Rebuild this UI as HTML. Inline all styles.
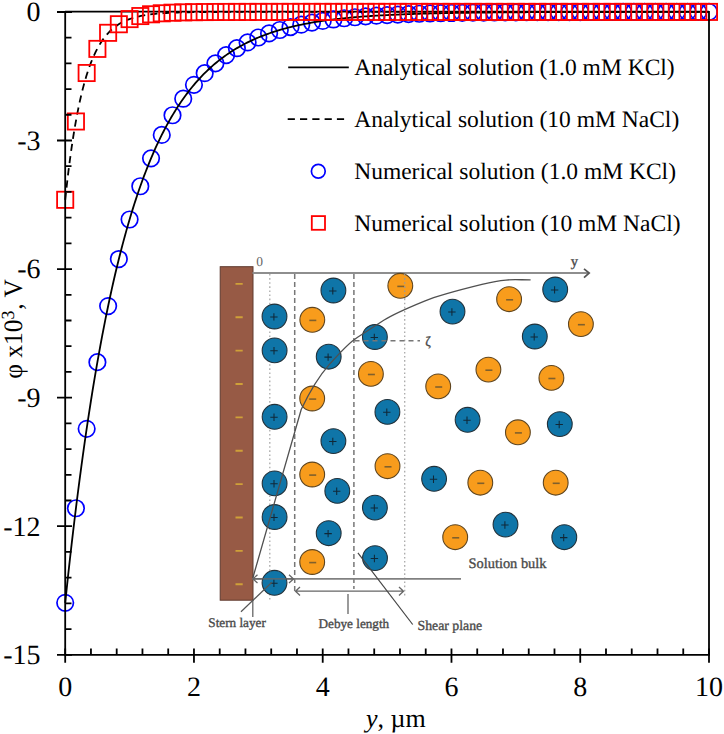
<!DOCTYPE html><html><head><meta charset="utf-8"><style>html,body{margin:0;padding:0;background:#fff;}svg{display:block;}text{font-family:"Liberation Serif",serif;text-rendering:geometricPrecision;}</style></head><body>
<svg width="724" height="734" viewBox="0 0 724 734">
<rect width="724" height="734" fill="#fff"/>
<g id="inset">
<rect x="220.2" y="266.7" width="32.8" height="333.5" fill="#975a45" stroke="#5e3a2e" stroke-width="1"/>
<path d="M235.5,283.9h7.2M235.5,317.3h7.2M235.5,350.6h7.2M235.5,384.0h7.2M235.5,417.4h7.2M235.5,450.8h7.2M235.5,484.1h7.2M235.5,517.5h7.2M235.5,550.9h7.2M235.5,584.2h7.2" stroke="#cfa038" stroke-width="1.9"/>
<path d="M252.5,273 H589" stroke="#8e8e8e" stroke-width="2" fill="none"/>
<path d="M584,268.8 L589.2,273 L584,277.6" stroke="#555" stroke-width="1.7" fill="none"/>
<path d="M269.8,274 V600 M404.7,274 V598" stroke="#aaa" stroke-width="1.3" stroke-dasharray="1.6 2.5" fill="none"/>
<path d="M294.7,274 V592 M353.9,274 V589" stroke="#777" stroke-width="1.5" stroke-dasharray="5 3" fill="none"/>
<path d="M252.5,578.9 H461" stroke="#808080" stroke-width="1.6" fill="none"/>
<circle cx="333.4" cy="290.5" r="12.4" fill="#0f75a8" stroke="#22313a" stroke-width="1.1"/>
<path d="M329.1,290.9h7.4M332.8,287.2v7.4" stroke="#102838" stroke-width="1.05"/>
<circle cx="274.5" cy="316.5" r="12.4" fill="#0f75a8" stroke="#22313a" stroke-width="1.1"/>
<path d="M270.2,316.9h7.4M273.9,313.2v7.4" stroke="#102838" stroke-width="1.05"/>
<circle cx="274.6" cy="350.4" r="12.4" fill="#0f75a8" stroke="#22313a" stroke-width="1.1"/>
<path d="M270.3,350.8h7.4M274.0,347.1v7.4" stroke="#102838" stroke-width="1.05"/>
<circle cx="328.7" cy="356.7" r="12.4" fill="#0f75a8" stroke="#22313a" stroke-width="1.1"/>
<path d="M324.4,357.1h7.4M328.1,353.4v7.4" stroke="#102838" stroke-width="1.05"/>
<circle cx="374.9" cy="337.0" r="12.4" fill="#0f75a8" stroke="#22313a" stroke-width="1.1"/>
<path d="M370.6,337.4h7.4M374.3,333.7v7.4" stroke="#102838" stroke-width="1.05"/>
<circle cx="452.5" cy="311.6" r="12.4" fill="#0f75a8" stroke="#22313a" stroke-width="1.1"/>
<path d="M448.2,312.0h7.4M451.9,308.3v7.4" stroke="#102838" stroke-width="1.05"/>
<circle cx="555.2" cy="289.5" r="12.4" fill="#0f75a8" stroke="#22313a" stroke-width="1.1"/>
<path d="M550.9,289.9h7.4M554.6,286.2v7.4" stroke="#102838" stroke-width="1.05"/>
<circle cx="534.8" cy="336.5" r="12.4" fill="#0f75a8" stroke="#22313a" stroke-width="1.1"/>
<path d="M530.5,336.9h7.4M534.2,333.2v7.4" stroke="#102838" stroke-width="1.05"/>
<circle cx="274.6" cy="416.8" r="12.4" fill="#0f75a8" stroke="#22313a" stroke-width="1.1"/>
<path d="M270.3,417.2h7.4M274.0,413.5v7.4" stroke="#102838" stroke-width="1.05"/>
<circle cx="333.4" cy="441.1" r="12.4" fill="#0f75a8" stroke="#22313a" stroke-width="1.1"/>
<path d="M329.1,441.5h7.4M332.8,437.8v7.4" stroke="#102838" stroke-width="1.05"/>
<circle cx="387.4" cy="411.9" r="12.4" fill="#0f75a8" stroke="#22313a" stroke-width="1.1"/>
<path d="M383.1,412.3h7.4M386.8,408.6v7.4" stroke="#102838" stroke-width="1.05"/>
<circle cx="467.6" cy="419.8" r="12.4" fill="#0f75a8" stroke="#22313a" stroke-width="1.1"/>
<path d="M463.3,420.2h7.4M467.0,416.5v7.4" stroke="#102838" stroke-width="1.05"/>
<circle cx="559.8" cy="424.1" r="12.4" fill="#0f75a8" stroke="#22313a" stroke-width="1.1"/>
<path d="M555.5,424.5h7.4M559.2,420.8v7.4" stroke="#102838" stroke-width="1.05"/>
<circle cx="274.6" cy="483.4" r="12.4" fill="#0f75a8" stroke="#22313a" stroke-width="1.1"/>
<path d="M270.3,483.8h7.4M274.0,480.1v7.4" stroke="#102838" stroke-width="1.05"/>
<circle cx="337.3" cy="490.9" r="12.4" fill="#0f75a8" stroke="#22313a" stroke-width="1.1"/>
<path d="M333.0,491.3h7.4M336.7,487.6v7.4" stroke="#102838" stroke-width="1.05"/>
<circle cx="274.6" cy="517.0" r="12.4" fill="#0f75a8" stroke="#22313a" stroke-width="1.1"/>
<path d="M270.3,517.4h7.4M274.0,513.7v7.4" stroke="#102838" stroke-width="1.05"/>
<circle cx="328.7" cy="533.2" r="12.4" fill="#0f75a8" stroke="#22313a" stroke-width="1.1"/>
<path d="M324.4,533.6h7.4M328.1,529.9v7.4" stroke="#102838" stroke-width="1.05"/>
<circle cx="374.9" cy="507.6" r="12.4" fill="#0f75a8" stroke="#22313a" stroke-width="1.1"/>
<path d="M370.6,508.0h7.4M374.3,504.3v7.4" stroke="#102838" stroke-width="1.05"/>
<circle cx="434.1" cy="478.8" r="12.4" fill="#0f75a8" stroke="#22313a" stroke-width="1.1"/>
<path d="M429.8,479.2h7.4M433.5,475.5v7.4" stroke="#102838" stroke-width="1.05"/>
<circle cx="505.5" cy="524.6" r="12.4" fill="#0f75a8" stroke="#22313a" stroke-width="1.1"/>
<path d="M501.2,525.0h7.4M504.9,521.3v7.4" stroke="#102838" stroke-width="1.05"/>
<circle cx="564.3" cy="537.2" r="12.4" fill="#0f75a8" stroke="#22313a" stroke-width="1.1"/>
<path d="M560.0,537.6h7.4M563.7,533.9v7.4" stroke="#102838" stroke-width="1.05"/>
<circle cx="375.0" cy="558.1" r="12.4" fill="#0f75a8" stroke="#22313a" stroke-width="1.1"/>
<path d="M370.7,558.5h7.4M374.4,554.8v7.4" stroke="#102838" stroke-width="1.05"/>
<circle cx="274.5" cy="582.8" r="12.4" fill="#0f75a8" stroke="#22313a" stroke-width="1.1"/>
<path d="M270.2,583.2h7.4M273.9,579.5v7.4" stroke="#102838" stroke-width="1.05"/>
<circle cx="400.3" cy="285.8" r="12.4" fill="#f89c1c" stroke="#5e4520" stroke-width="1.1"/>
<path d="M397.3,286.4h7" stroke="#80602c" stroke-width="1.6"/>
<circle cx="509.1" cy="299.2" r="12.4" fill="#f89c1c" stroke="#5e4520" stroke-width="1.1"/>
<path d="M506.1,299.8h7" stroke="#80602c" stroke-width="1.6"/>
<circle cx="580.9" cy="324.1" r="12.4" fill="#f89c1c" stroke="#5e4520" stroke-width="1.1"/>
<path d="M577.9,324.7h7" stroke="#80602c" stroke-width="1.6"/>
<circle cx="312.3" cy="319.8" r="12.4" fill="#f89c1c" stroke="#5e4520" stroke-width="1.1"/>
<path d="M309.3,320.4h7" stroke="#80602c" stroke-width="1.6"/>
<circle cx="370.9" cy="373.9" r="12.4" fill="#f89c1c" stroke="#5e4520" stroke-width="1.1"/>
<path d="M367.9,374.5h7" stroke="#80602c" stroke-width="1.6"/>
<circle cx="438.2" cy="386.4" r="12.4" fill="#f89c1c" stroke="#5e4520" stroke-width="1.1"/>
<path d="M435.2,387.0h7" stroke="#80602c" stroke-width="1.6"/>
<circle cx="488.4" cy="369.6" r="12.4" fill="#f89c1c" stroke="#5e4520" stroke-width="1.1"/>
<path d="M485.4,370.2h7" stroke="#80602c" stroke-width="1.6"/>
<circle cx="551.4" cy="377.9" r="12.4" fill="#f89c1c" stroke="#5e4520" stroke-width="1.1"/>
<path d="M548.4,378.5h7" stroke="#80602c" stroke-width="1.6"/>
<circle cx="312.2" cy="398.5" r="12.4" fill="#f89c1c" stroke="#5e4520" stroke-width="1.1"/>
<path d="M309.2,399.1h7" stroke="#80602c" stroke-width="1.6"/>
<circle cx="517.9" cy="432.3" r="12.4" fill="#f89c1c" stroke="#5e4520" stroke-width="1.1"/>
<path d="M514.9,432.9h7" stroke="#80602c" stroke-width="1.6"/>
<circle cx="387.5" cy="466.2" r="12.4" fill="#f89c1c" stroke="#5e4520" stroke-width="1.1"/>
<path d="M384.5,466.8h7" stroke="#80602c" stroke-width="1.6"/>
<circle cx="312.2" cy="474.5" r="12.4" fill="#f89c1c" stroke="#5e4520" stroke-width="1.1"/>
<path d="M309.2,475.1h7" stroke="#80602c" stroke-width="1.6"/>
<circle cx="480.3" cy="482.7" r="12.4" fill="#f89c1c" stroke="#5e4520" stroke-width="1.1"/>
<path d="M477.3,483.3h7" stroke="#80602c" stroke-width="1.6"/>
<circle cx="555.7" cy="482.7" r="12.4" fill="#f89c1c" stroke="#5e4520" stroke-width="1.1"/>
<path d="M552.7,483.3h7" stroke="#80602c" stroke-width="1.6"/>
<circle cx="455.2" cy="537.2" r="12.4" fill="#f89c1c" stroke="#5e4520" stroke-width="1.1"/>
<path d="M452.2,537.8h7" stroke="#80602c" stroke-width="1.6"/>
<circle cx="312.2" cy="562.0" r="12.4" fill="#f89c1c" stroke="#5e4520" stroke-width="1.1"/>
<path d="M309.2,562.6h7" stroke="#80602c" stroke-width="1.6"/>
<path d="M404.7,274 V299" stroke="#999" stroke-width="1.3" stroke-dasharray="1.6 2.5" fill="none"/>
<path d="M354.5,340.8 H420" stroke="#777" stroke-width="1.5" stroke-dasharray="5 4" fill="none"/>
<path d="M252.8,578 L301.2,409.5 C310,391 320,375 329,364.9 S348,344 354.5,339.5 S375,326 384.6,319.8 S410,307 423.9,301.3 S455,291 482,284.4 S515,280 530.6,279.9" stroke="#505050" stroke-width="1.3" fill="none"/>
<path d="M253,578.9 H293.5 M257.5,574.7 L253,578.9 L257.5,583.1 M289,574.7 L293.5,578.9 L289,583.1" stroke="#666" stroke-width="1.3" fill="none"/>
<path d="M295.5,591.2 H403.5 M300,587 L295.5,591.2 L300,595.4 M399,587 L403.5,591.2 L399,595.4" stroke="#666" stroke-width="1.3" fill="none"/>
<path d="M348,594 V614 M252.8,600 V617" stroke="#666" stroke-width="1.3" fill="none"/>
<path d="M241,611.8 L271.9,582.2" stroke="#555" stroke-width="1.2" fill="none"/>
<path d="M357.9,552.9 L412.7,624.5" stroke="#444" stroke-width="1.2" fill="none"/>
<g fill="#4a4a4a" stroke="#4a4a4a" stroke-width="0.35" font-family="Liberation Serif">
<text x="256.2" y="266.2" font-size="13.5" stroke="none" fill="#666">0</text>
<text x="570.8" y="265.6" font-size="14.5">y</text>
<text x="425.2" y="346.2" font-size="13.5">ζ</text>
<text x="208.3" y="626.5" font-size="13.2">Stern layer</text>
<text x="318.5" y="627.8" font-size="13.2">Debye length</text>
<text x="417.5" y="629.8" font-size="13.8">Shear plane</text>
<text x="468.5" y="567.7" font-size="14.4">Solution bulk</text>
</g>
</g>
<path d="M65,11.6 H709.00" stroke="#000" stroke-width="1.6"/>
<g fill="none" stroke="#0000ff" stroke-width="1.7"><circle cx="65.20" cy="602.81" r="8.25"/><circle cx="75.93" cy="508.27" r="8.25"/><circle cx="86.66" cy="428.85" r="8.25"/><circle cx="97.39" cy="362.14" r="8.25"/><circle cx="108.12" cy="306.10" r="8.25"/><circle cx="118.85" cy="259.03" r="8.25"/><circle cx="129.58" cy="219.49" r="8.25"/><circle cx="140.31" cy="186.27" r="8.25"/><circle cx="151.04" cy="158.37" r="8.25"/><circle cx="161.77" cy="134.94" r="8.25"/><circle cx="172.50" cy="115.25" r="8.25"/><circle cx="183.23" cy="98.71" r="8.25"/><circle cx="193.96" cy="84.82" r="8.25"/><circle cx="204.69" cy="73.16" r="8.25"/><circle cx="215.42" cy="63.36" r="8.25"/><circle cx="226.15" cy="55.12" r="8.25"/><circle cx="236.88" cy="48.21" r="8.25"/><circle cx="247.61" cy="42.40" r="8.25"/><circle cx="258.34" cy="37.52" r="8.25"/><circle cx="269.07" cy="33.42" r="8.25"/><circle cx="279.80" cy="29.98" r="8.25"/><circle cx="290.53" cy="27.08" r="8.25"/><circle cx="301.26" cy="24.65" r="8.25"/><circle cx="311.99" cy="22.61" r="8.25"/><circle cx="322.72" cy="20.90" r="8.25"/><circle cx="333.45" cy="19.46" r="8.25"/><circle cx="344.18" cy="18.25" r="8.25"/><circle cx="354.91" cy="17.23" r="8.25"/><circle cx="365.64" cy="16.38" r="8.25"/><circle cx="376.37" cy="15.66" r="8.25"/><circle cx="387.10" cy="15.06" r="8.25"/><circle cx="397.83" cy="14.56" r="8.25"/><circle cx="408.56" cy="14.13" r="8.25"/><circle cx="419.29" cy="13.77" r="8.25"/><circle cx="430.02" cy="13.47" r="8.25"/><circle cx="440.75" cy="13.22" r="8.25"/><circle cx="451.48" cy="13.01" r="8.25"/><circle cx="462.21" cy="12.83" r="8.25"/><circle cx="472.94" cy="12.68" r="8.25"/><circle cx="483.67" cy="12.56" r="8.25"/><circle cx="494.40" cy="12.45" r="8.25"/><circle cx="505.13" cy="12.36" r="8.25"/><circle cx="515.86" cy="12.29" r="8.25"/><circle cx="526.59" cy="12.23" r="8.25"/><circle cx="537.32" cy="12.18" r="8.25"/><circle cx="548.05" cy="12.13" r="8.25"/><circle cx="558.78" cy="12.09" r="8.25"/><circle cx="569.51" cy="12.06" r="8.25"/><circle cx="580.24" cy="12.04" r="8.25"/><circle cx="590.97" cy="12.02" r="8.25"/><circle cx="601.70" cy="12.00" r="8.25"/><circle cx="612.43" cy="11.98" r="8.25"/><circle cx="623.16" cy="11.97" r="8.25"/><circle cx="633.89" cy="11.96" r="8.25"/><circle cx="644.62" cy="11.95" r="8.25"/><circle cx="655.35" cy="11.94" r="8.25"/><circle cx="666.08" cy="11.93" r="8.25"/><circle cx="676.81" cy="11.93" r="8.25"/><circle cx="687.54" cy="11.92" r="8.25"/><circle cx="698.27" cy="11.92" r="8.25"/><circle cx="709.00" cy="11.92" r="8.25"/></g>
<path d="M65.20,602.81 L66.81,587.56 L68.42,572.69 L70.03,558.22 L71.64,544.11 L73.25,530.37 L74.86,516.99 L76.47,503.95 L78.08,491.25 L79.69,478.87 L81.30,466.82 L82.90,455.07 L84.51,443.63 L86.12,432.49 L87.73,421.63 L89.34,411.05 L90.95,400.75 L92.56,390.71 L94.17,380.93 L95.78,371.40 L97.39,362.12 L99.00,353.08 L100.61,344.27 L102.22,335.69 L103.83,327.33 L105.44,319.19 L107.05,311.26 L108.66,303.53 L110.27,296.00 L111.88,288.67 L113.48,281.52 L115.09,274.56 L116.70,267.78 L118.31,261.17 L119.92,254.74 L121.53,248.47 L123.14,242.36 L124.75,236.41 L126.36,230.62 L127.97,224.97 L129.58,219.47 L131.19,214.11 L132.80,208.89 L134.41,203.80 L136.02,198.85 L137.63,194.02 L139.24,189.32 L140.85,184.74 L142.46,180.28 L144.07,175.93 L145.68,171.70 L147.28,167.57 L148.89,163.55 L150.50,159.64 L152.11,155.83 L153.72,152.11 L155.33,148.49 L156.94,144.96 L158.55,141.53 L160.16,138.18 L161.77,134.92 L163.38,131.75 L164.99,128.65 L166.60,125.64 L168.21,122.70 L169.82,119.84 L171.43,117.05 L173.04,114.34 L174.65,111.70 L176.26,109.12 L177.87,106.61 L179.47,104.16 L181.08,101.78 L182.69,99.46 L184.30,97.20 L185.91,95.00 L187.52,92.85 L189.13,90.76 L190.74,88.73 L192.35,86.75 L193.96,84.81 L195.57,82.93 L197.18,81.10 L198.79,79.31 L200.40,77.57 L202.01,75.87 L203.62,74.22 L205.23,72.61 L206.84,71.05 L208.45,69.52 L210.06,68.03 L211.66,66.58 L213.27,65.17 L214.88,63.80 L216.49,62.46 L218.10,61.15 L219.71,59.88 L221.32,58.64 L222.93,57.43 L224.54,56.26 L226.15,55.11 L227.76,54.00 L229.37,52.91 L230.98,51.85 L232.59,50.82 L234.20,49.82 L235.81,48.84 L237.42,47.88 L239.03,46.96 L240.64,46.05 L242.25,45.17 L243.85,44.31 L245.46,43.47 L247.07,42.66 L248.68,41.86 L250.29,41.09 L251.90,40.34 L253.51,39.60 L255.12,38.89 L256.73,38.19 L258.34,37.51 L259.95,36.85 L261.56,36.21 L263.17,35.58 L264.78,34.97 L266.39,34.37 L268.00,33.79 L269.61,33.23 L271.22,32.68 L272.83,32.14 L274.44,31.62 L276.04,31.11 L277.65,30.61 L279.26,30.13 L280.87,29.66 L282.48,29.20 L284.09,28.75 L285.70,28.32 L287.31,27.89 L288.92,27.48 L290.53,27.08 L292.14,26.69 L293.75,26.31 L295.36,25.93 L296.97,25.57 L298.58,25.22 L300.19,24.88 L301.80,24.54 L303.41,24.21 L305.02,23.90 L306.62,23.59 L308.23,23.28 L309.84,22.99 L311.45,22.70 L313.06,22.43 L314.67,22.15 L316.28,21.89 L317.89,21.63 L319.50,21.38 L321.11,21.14 L322.72,20.90 L324.33,20.66 L325.94,20.44 L327.55,20.22 L329.16,20.00 L330.77,19.79 L332.38,19.59 L333.99,19.39 L335.60,19.20 L337.21,19.01 L338.81,18.83 L340.42,18.65 L342.03,18.47 L343.64,18.30 L345.25,18.14 L346.86,17.98 L348.47,17.82 L350.08,17.67 L351.69,17.52 L353.30,17.37 L354.91,17.23 L356.52,17.09 L358.13,16.96 L359.74,16.83 L361.35,16.70 L362.96,16.58 L364.57,16.46 L366.18,16.34 L367.79,16.23 L369.40,16.11 L371.00,16.01 L372.61,15.90 L374.22,15.80 L375.83,15.70 L377.44,15.60 L379.05,15.50 L380.66,15.41 L382.27,15.32 L383.88,15.23 L385.49,15.14 L387.10,15.06 L388.71,14.98 L390.32,14.90 L391.93,14.82 L393.54,14.75 L395.15,14.67 L396.76,14.60 L398.37,14.53 L399.98,14.46 L401.59,14.40 L403.19,14.33 L404.80,14.27 L406.41,14.21 L408.02,14.15 L409.63,14.09 L411.24,14.03 L412.85,13.98 L414.46,13.93 L416.07,13.87 L417.68,13.82 L419.29,13.77 L420.90,13.72 L422.51,13.68 L424.12,13.63 L425.73,13.59 L427.34,13.54 L428.95,13.50 L430.56,13.46 L432.17,13.42 L433.78,13.38 L435.38,13.34 L436.99,13.30 L438.60,13.27 L440.21,13.23 L441.82,13.20 L443.43,13.17 L445.04,13.13 L446.65,13.10 L448.26,13.07 L449.87,13.04 L451.48,13.01 L453.09,12.98 L454.70,12.95 L456.31,12.93 L457.92,12.90 L459.53,12.87 L461.14,12.85 L462.75,12.82 L464.36,12.80 L465.97,12.78 L467.57,12.75 L469.18,12.73 L470.79,12.71 L472.40,12.69 L474.01,12.67 L475.62,12.65 L477.23,12.63 L478.84,12.61 L480.45,12.59 L482.06,12.58 L483.67,12.56 L485.28,12.54 L486.89,12.52 L488.50,12.51 L490.11,12.49 L491.72,12.48 L493.33,12.46 L494.94,12.45 L496.55,12.43 L498.16,12.42 L499.76,12.41 L501.37,12.39 L502.98,12.38 L504.59,12.37 L506.20,12.36 L507.81,12.34 L509.42,12.33 L511.03,12.32 L512.64,12.31 L514.25,12.30 L515.86,12.29 L517.47,12.28 L519.08,12.27 L520.69,12.26 L522.30,12.25 L523.91,12.24 L525.52,12.23 L527.13,12.22 L528.74,12.22 L530.35,12.21 L531.96,12.20 L533.56,12.19 L535.17,12.18 L536.78,12.18 L538.39,12.17 L540.00,12.16 L541.61,12.16 L543.22,12.15 L544.83,12.14 L546.44,12.14 L548.05,12.13 L549.66,12.13 L551.27,12.12 L552.88,12.11 L554.49,12.11 L556.10,12.10 L557.71,12.10 L559.32,12.09 L560.93,12.09 L562.54,12.08 L564.14,12.08 L565.75,12.07 L567.36,12.07 L568.97,12.06 L570.58,12.06 L572.19,12.06 L573.80,12.05 L575.41,12.05 L577.02,12.04 L578.63,12.04 L580.24,12.04 L581.85,12.03 L583.46,12.03 L585.07,12.03 L586.68,12.02 L588.29,12.02 L589.90,12.02 L591.51,12.01 L593.12,12.01 L594.73,12.01 L596.34,12.01 L597.94,12.00 L599.55,12.00 L601.16,12.00 L602.77,11.99 L604.38,11.99 L605.99,11.99 L607.60,11.99 L609.21,11.99 L610.82,11.98 L612.43,11.98 L614.04,11.98 L615.65,11.98 L617.26,11.98 L618.87,11.97 L620.48,11.97 L622.09,11.97 L623.70,11.97 L625.31,11.97 L626.92,11.96 L628.52,11.96 L630.13,11.96 L631.74,11.96 L633.35,11.96 L634.96,11.96 L636.57,11.95 L638.18,11.95 L639.79,11.95 L641.40,11.95 L643.01,11.95 L644.62,11.95 L646.23,11.95 L647.84,11.95 L649.45,11.94 L651.06,11.94 L652.67,11.94 L654.28,11.94 L655.89,11.94 L657.50,11.94 L659.11,11.94 L660.72,11.94 L662.32,11.94 L663.93,11.94 L665.54,11.93 L667.15,11.93 L668.76,11.93 L670.37,11.93 L671.98,11.93 L673.59,11.93 L675.20,11.93 L676.81,11.93 L678.42,11.93 L680.03,11.93 L681.64,11.93 L683.25,11.93 L684.86,11.93 L686.47,11.92 L688.08,11.92 L689.69,11.92 L691.30,11.92 L692.90,11.92 L694.51,11.92 L696.12,11.92 L697.73,11.92 L699.34,11.92 L700.95,11.92 L702.56,11.92 L704.17,11.92 L705.78,11.92 L707.39,11.92 L709.00,11.92" fill="none" stroke="#000" stroke-width="1.8"/>
<path d="M65.20,199.80 L66.81,185.05 L68.42,171.46 L70.03,158.93 L71.64,147.39 L73.25,136.75 L74.86,126.95 L76.47,117.92 L78.08,109.60 L79.69,101.93 L81.30,94.86 L82.90,88.35 L84.51,82.35 L86.12,76.82 L87.73,71.72 L89.34,67.03 L90.95,62.70 L92.56,58.71 L94.17,55.04 L95.78,51.65 L97.39,48.53 L99.00,45.66 L100.61,43.01 L102.22,40.56 L103.83,38.31 L105.44,36.24 L107.05,34.33 L108.66,32.57 L110.27,30.95 L111.88,29.45 L113.48,28.07 L115.09,26.80 L116.70,25.63 L118.31,24.56 L119.92,23.56 L121.53,22.65 L123.14,21.80 L124.75,21.03 L126.36,20.31 L127.97,19.65 L129.58,19.04 L131.19,18.48 L132.80,17.96 L134.41,17.49 L136.02,17.05 L137.63,16.65 L139.24,16.27 L140.85,15.93 L142.46,15.61 L144.07,15.32 L145.68,15.05 L147.28,14.81 L148.89,14.58 L150.50,14.37 L152.11,14.17 L153.72,14.00 L155.33,13.83 L156.94,13.68 L158.55,13.54 L160.16,13.41 L161.77,13.29 L163.38,13.18 L164.99,13.08 L166.60,12.99 L168.21,12.90 L169.82,12.83 L171.43,12.75 L173.04,12.69 L174.65,12.62 L176.26,12.57 L177.87,12.51 L179.47,12.47 L181.08,12.42 L182.69,12.38 L184.30,12.34 L185.91,12.31 L187.52,12.28 L189.13,12.25 L190.74,12.22 L192.35,12.19 L193.96,12.17 L195.57,12.15 L197.18,12.13 L198.79,12.11 L200.40,12.10 L202.01,12.08 L203.62,12.07 L205.23,12.05 L206.84,12.04 L208.45,12.03 L210.06,12.02 L211.66,12.01 L213.27,12.00 L214.88,11.99 L216.49,11.99 L218.10,11.98 L219.71,11.97 L221.32,11.97 L222.93,11.96 L224.54,11.96 L226.15,11.95 L227.76,11.95 L229.37,11.94 L230.98,11.94 L232.59,11.94 L234.20,11.94 L235.81,11.93 L237.42,11.93 L239.03,11.93 L240.64,11.93 L242.25,11.92 L243.85,11.92 L245.46,11.92 L247.07,11.92 L248.68,11.92 L250.29,11.92 L251.90,11.91 L253.51,11.91 L255.12,11.91 L256.73,11.91 L258.34,11.91 L259.95,11.91 L261.56,11.91 L263.17,11.91 L264.78,11.91 L266.39,11.91 L268.00,11.91 L269.61,11.91 L271.22,11.91 L272.83,11.90 L274.44,11.90 L276.04,11.90 L277.65,11.90 L279.26,11.90 L280.87,11.90 L282.48,11.90 L284.09,11.90 L285.70,11.90 L287.31,11.90 L288.92,11.90 L290.53,11.90 L292.14,11.90 L293.75,11.90 L295.36,11.90 L296.97,11.90 L298.58,11.90 L300.19,11.90 L301.80,11.90 L303.41,11.90 L305.02,11.90 L306.62,11.90 L308.23,11.90 L309.84,11.90 L311.45,11.90 L313.06,11.90 L314.67,11.90 L316.28,11.90 L317.89,11.90 L319.50,11.90 L321.11,11.90 L322.72,11.90 L324.33,11.90 L325.94,11.90 L327.55,11.90 L329.16,11.90 L330.77,11.90 L332.38,11.90 L333.99,11.90 L335.60,11.90 L337.21,11.90 L338.81,11.90 L340.42,11.90 L342.03,11.90 L343.64,11.90 L345.25,11.90 L346.86,11.90 L348.47,11.90 L350.08,11.90 L351.69,11.90 L353.30,11.90 L354.91,11.90 L356.52,11.90 L358.13,11.90 L359.74,11.90 L361.35,11.90 L362.96,11.90 L364.57,11.90 L366.18,11.90 L367.79,11.90 L369.40,11.90 L371.00,11.90 L372.61,11.90 L374.22,11.90 L375.83,11.90 L377.44,11.90 L379.05,11.90 L380.66,11.90 L382.27,11.90 L383.88,11.90 L385.49,11.90 L387.10,11.90 L388.71,11.90 L390.32,11.90 L391.93,11.90 L393.54,11.90 L395.15,11.90 L396.76,11.90 L398.37,11.90 L399.98,11.90 L401.59,11.90 L403.19,11.90 L404.80,11.90 L406.41,11.90 L408.02,11.90 L409.63,11.90 L411.24,11.90 L412.85,11.90 L414.46,11.90 L416.07,11.90 L417.68,11.90 L419.29,11.90 L420.90,11.90 L422.51,11.90 L424.12,11.90 L425.73,11.90 L427.34,11.90 L428.95,11.90 L430.56,11.90 L432.17,11.90 L433.78,11.90 L435.38,11.90 L436.99,11.90 L438.60,11.90 L440.21,11.90 L441.82,11.90 L443.43,11.90 L445.04,11.90 L446.65,11.90 L448.26,11.90 L449.87,11.90 L451.48,11.90 L453.09,11.90 L454.70,11.90 L456.31,11.90 L457.92,11.90 L459.53,11.90 L461.14,11.90 L462.75,11.90 L464.36,11.90 L465.97,11.90 L467.57,11.90 L469.18,11.90 L470.79,11.90 L472.40,11.90 L474.01,11.90 L475.62,11.90 L477.23,11.90 L478.84,11.90 L480.45,11.90 L482.06,11.90 L483.67,11.90 L485.28,11.90 L486.89,11.90 L488.50,11.90 L490.11,11.90 L491.72,11.90 L493.33,11.90 L494.94,11.90 L496.55,11.90 L498.16,11.90 L499.76,11.90 L501.37,11.90 L502.98,11.90 L504.59,11.90 L506.20,11.90 L507.81,11.90 L509.42,11.90 L511.03,11.90 L512.64,11.90 L514.25,11.90 L515.86,11.90 L517.47,11.90 L519.08,11.90 L520.69,11.90 L522.30,11.90 L523.91,11.90 L525.52,11.90 L527.13,11.90 L528.74,11.90 L530.35,11.90 L531.96,11.90 L533.56,11.90 L535.17,11.90 L536.78,11.90 L538.39,11.90 L540.00,11.90 L541.61,11.90 L543.22,11.90 L544.83,11.90 L546.44,11.90 L548.05,11.90 L549.66,11.90 L551.27,11.90 L552.88,11.90 L554.49,11.90 L556.10,11.90 L557.71,11.90 L559.32,11.90 L560.93,11.90 L562.54,11.90 L564.14,11.90 L565.75,11.90 L567.36,11.90 L568.97,11.90 L570.58,11.90 L572.19,11.90 L573.80,11.90 L575.41,11.90 L577.02,11.90 L578.63,11.90 L580.24,11.90 L581.85,11.90 L583.46,11.90 L585.07,11.90 L586.68,11.90 L588.29,11.90 L589.90,11.90 L591.51,11.90 L593.12,11.90 L594.73,11.90 L596.34,11.90 L597.94,11.90 L599.55,11.90 L601.16,11.90 L602.77,11.90 L604.38,11.90 L605.99,11.90 L607.60,11.90 L609.21,11.90 L610.82,11.90 L612.43,11.90 L614.04,11.90 L615.65,11.90 L617.26,11.90 L618.87,11.90 L620.48,11.90 L622.09,11.90 L623.70,11.90 L625.31,11.90 L626.92,11.90 L628.52,11.90 L630.13,11.90 L631.74,11.90 L633.35,11.90 L634.96,11.90 L636.57,11.90 L638.18,11.90 L639.79,11.90 L641.40,11.90 L643.01,11.90 L644.62,11.90 L646.23,11.90 L647.84,11.90 L649.45,11.90 L651.06,11.90 L652.67,11.90 L654.28,11.90 L655.89,11.90 L657.50,11.90 L659.11,11.90 L660.72,11.90 L662.32,11.90 L663.93,11.90 L665.54,11.90 L667.15,11.90 L668.76,11.90 L670.37,11.90 L671.98,11.90 L673.59,11.90 L675.20,11.90 L676.81,11.90 L678.42,11.90 L680.03,11.90 L681.64,11.90 L683.25,11.90 L684.86,11.90 L686.47,11.90 L688.08,11.90 L689.69,11.90 L691.30,11.90 L692.90,11.90 L694.51,11.90 L696.12,11.90 L697.73,11.90 L699.34,11.90 L700.95,11.90 L702.56,11.90 L704.17,11.90 L705.78,11.90 L707.39,11.90 L709.00,11.90" fill="none" stroke="#000" stroke-width="1.8" stroke-dasharray="7.2 5.1"/>
<g fill="none" stroke="#ff0000" stroke-width="1.8"><rect x="57.10" y="191.70" width="16.20" height="16.20"/><rect x="67.83" y="113.39" width="16.20" height="16.20"/><rect x="78.56" y="64.92" width="16.20" height="16.20"/><rect x="89.29" y="40.79" width="16.20" height="16.20"/><rect x="100.02" y="24.72" width="16.20" height="16.20"/><rect x="110.75" y="16.14" width="16.20" height="16.20"/><rect x="121.48" y="11.00" width="16.20" height="16.20"/><rect x="132.21" y="7.96" width="16.20" height="16.20"/><rect x="142.94" y="6.20" width="16.20" height="16.20"/><rect x="153.67" y="5.19" width="16.20" height="16.20"/><rect x="164.40" y="4.60" width="16.20" height="16.20"/><rect x="175.13" y="4.26" width="16.20" height="16.20"/><rect x="185.86" y="4.07" width="16.20" height="16.20"/><rect x="196.59" y="3.96" width="16.20" height="16.20"/><rect x="207.32" y="3.89" width="16.20" height="16.20"/><rect x="218.05" y="3.85" width="16.20" height="16.20"/><rect x="228.78" y="3.83" width="16.20" height="16.20"/><rect x="239.51" y="3.82" width="16.20" height="16.20"/><rect x="250.24" y="3.81" width="16.20" height="16.20"/><rect x="260.97" y="3.81" width="16.20" height="16.20"/><rect x="271.70" y="3.80" width="16.20" height="16.20"/><rect x="282.43" y="3.80" width="16.20" height="16.20"/><rect x="293.16" y="3.80" width="16.20" height="16.20"/><rect x="303.89" y="3.80" width="16.20" height="16.20"/><rect x="314.62" y="3.80" width="16.20" height="16.20"/><rect x="325.35" y="3.80" width="16.20" height="16.20"/><rect x="336.08" y="3.80" width="16.20" height="16.20"/><rect x="346.81" y="3.80" width="16.20" height="16.20"/><rect x="357.54" y="3.80" width="16.20" height="16.20"/><rect x="368.27" y="3.80" width="16.20" height="16.20"/><rect x="379.00" y="3.80" width="16.20" height="16.20"/><rect x="389.73" y="3.80" width="16.20" height="16.20"/><rect x="400.46" y="3.80" width="16.20" height="16.20"/><rect x="411.19" y="3.80" width="16.20" height="16.20"/><rect x="421.92" y="3.80" width="16.20" height="16.20"/><rect x="432.65" y="3.80" width="16.20" height="16.20"/><rect x="443.38" y="3.80" width="16.20" height="16.20"/><rect x="454.11" y="3.80" width="16.20" height="16.20"/><rect x="464.84" y="3.80" width="16.20" height="16.20"/><rect x="475.57" y="3.80" width="16.20" height="16.20"/><rect x="486.30" y="3.80" width="16.20" height="16.20"/><rect x="497.03" y="3.80" width="16.20" height="16.20"/><rect x="507.76" y="3.80" width="16.20" height="16.20"/><rect x="518.49" y="3.80" width="16.20" height="16.20"/><rect x="529.22" y="3.80" width="16.20" height="16.20"/><rect x="539.95" y="3.80" width="16.20" height="16.20"/><rect x="550.68" y="3.80" width="16.20" height="16.20"/><rect x="561.41" y="3.80" width="16.20" height="16.20"/><rect x="572.14" y="3.80" width="16.20" height="16.20"/><rect x="582.87" y="3.80" width="16.20" height="16.20"/><rect x="593.60" y="3.80" width="16.20" height="16.20"/><rect x="604.33" y="3.80" width="16.20" height="16.20"/><rect x="615.06" y="3.80" width="16.20" height="16.20"/><rect x="625.79" y="3.80" width="16.20" height="16.20"/><rect x="636.52" y="3.80" width="16.20" height="16.20"/><rect x="647.25" y="3.80" width="16.20" height="16.20"/><rect x="657.98" y="3.80" width="16.20" height="16.20"/><rect x="668.71" y="3.80" width="16.20" height="16.20"/><rect x="679.44" y="3.80" width="16.20" height="16.20"/><rect x="690.17" y="3.80" width="16.20" height="16.20"/><rect x="700.90" y="3.80" width="16.20" height="16.20"/></g>
<path d="M65.20,10.90 V654.80 H709.00 V10.90" fill="none" stroke="#000" stroke-width="1.8"/><path d="M57,12.00 H72 M65.20,37.62 H71.5 M65.20,63.33 H71.5 M65.20,89.05 H71.5 M65.20,114.76 H71.5 M57,140.48 H72 M65.20,166.20 H71.5 M65.20,191.91 H71.5 M65.20,217.63 H71.5 M65.20,243.34 H71.5 M57,269.06 H72 M65.20,294.78 H71.5 M65.20,320.49 H71.5 M65.20,346.21 H71.5 M65.20,371.92 H71.5 M57,397.64 H72 M65.20,423.36 H71.5 M65.20,449.07 H71.5 M65.20,474.79 H71.5 M65.20,500.50 H71.5 M57,526.22 H72 M65.20,551.94 H71.5 M65.20,577.65 H71.5 M65.20,603.37 H71.5 M65.20,629.08 H71.5 M57,654.80 H72 M65.20,648.6 V662.8 M90.95,648.6 V654.80 M116.70,648.6 V654.80 M142.46,648.6 V654.80 M168.21,648.6 V654.80 M193.96,648.6 V662.8 M219.71,648.6 V654.80 M245.46,648.6 V654.80 M271.22,648.6 V654.80 M296.97,648.6 V654.80 M322.72,648.6 V662.8 M348.47,648.6 V654.80 M374.22,648.6 V654.80 M399.98,648.6 V654.80 M425.73,648.6 V654.80 M451.48,648.6 V662.8 M477.23,648.6 V654.80 M502.98,648.6 V654.80 M528.74,648.6 V654.80 M554.49,648.6 V654.80 M580.24,648.6 V662.8 M605.99,648.6 V654.80 M631.74,648.6 V654.80 M657.50,648.6 V654.80 M683.25,648.6 V654.80 M709.00,648.6 V662.8" fill="none" stroke="#000" stroke-width="1.8"/>
<g font-size="28" fill="#000"><text x="40.5" y="21.20" text-anchor="end">0</text><text x="40.5" y="149.78" text-anchor="end">-3</text><text x="40.5" y="278.36" text-anchor="end">-6</text><text x="40.5" y="406.94" text-anchor="end">-9</text><text x="40.5" y="535.52" text-anchor="end">-12</text><text x="40.5" y="664.10" text-anchor="end">-15</text><text x="65.20" y="696.3" text-anchor="middle">0</text><text x="193.96" y="696.3" text-anchor="middle">2</text><text x="322.72" y="696.3" text-anchor="middle">4</text><text x="451.48" y="696.3" text-anchor="middle">6</text><text x="580.24" y="696.3" text-anchor="middle">8</text><text x="709.00" y="696.3" text-anchor="middle">10</text></g>
<text x="366" y="727" font-size="26"><tspan font-style="italic">y</tspan>, µm</text>
<text transform="translate(21.6,378.8) scale(1,0.96) rotate(-90)" font-size="26.5">φ x10<tspan font-size="18.5" dy="-8">3</tspan></text>
<text transform="translate(21.6,309.8) scale(1,0.96) rotate(-90)" font-size="26.5">, V</text>
<g font-size="23.5" fill="#000"><path d="M288.2,67.4 H348.8" stroke="#000" stroke-width="1.8"/><path d="M287.7,119.1 H344.2" stroke="#000" stroke-width="1.8" stroke-dasharray="7.2 5.1"/><circle cx="318.3" cy="171.2" r="6.9" fill="none" stroke="#0000ff" stroke-width="1.7"/><rect x="311.8" y="216.1" width="13.2" height="13.7" fill="none" stroke="#ff0000" stroke-width="1.8"/><text x="354.2" y="75.1">Analytical solution (1.0 mM KCl)</text><text x="354.2" y="126.8">Analytical solution (10 mM NaCl)</text><text x="354.2" y="178.8">Numerical solution (1.0 mM KCl)</text><text x="354.2" y="230.7">Numerical solution (10 mM NaCl)</text></g>
</svg></body></html>
